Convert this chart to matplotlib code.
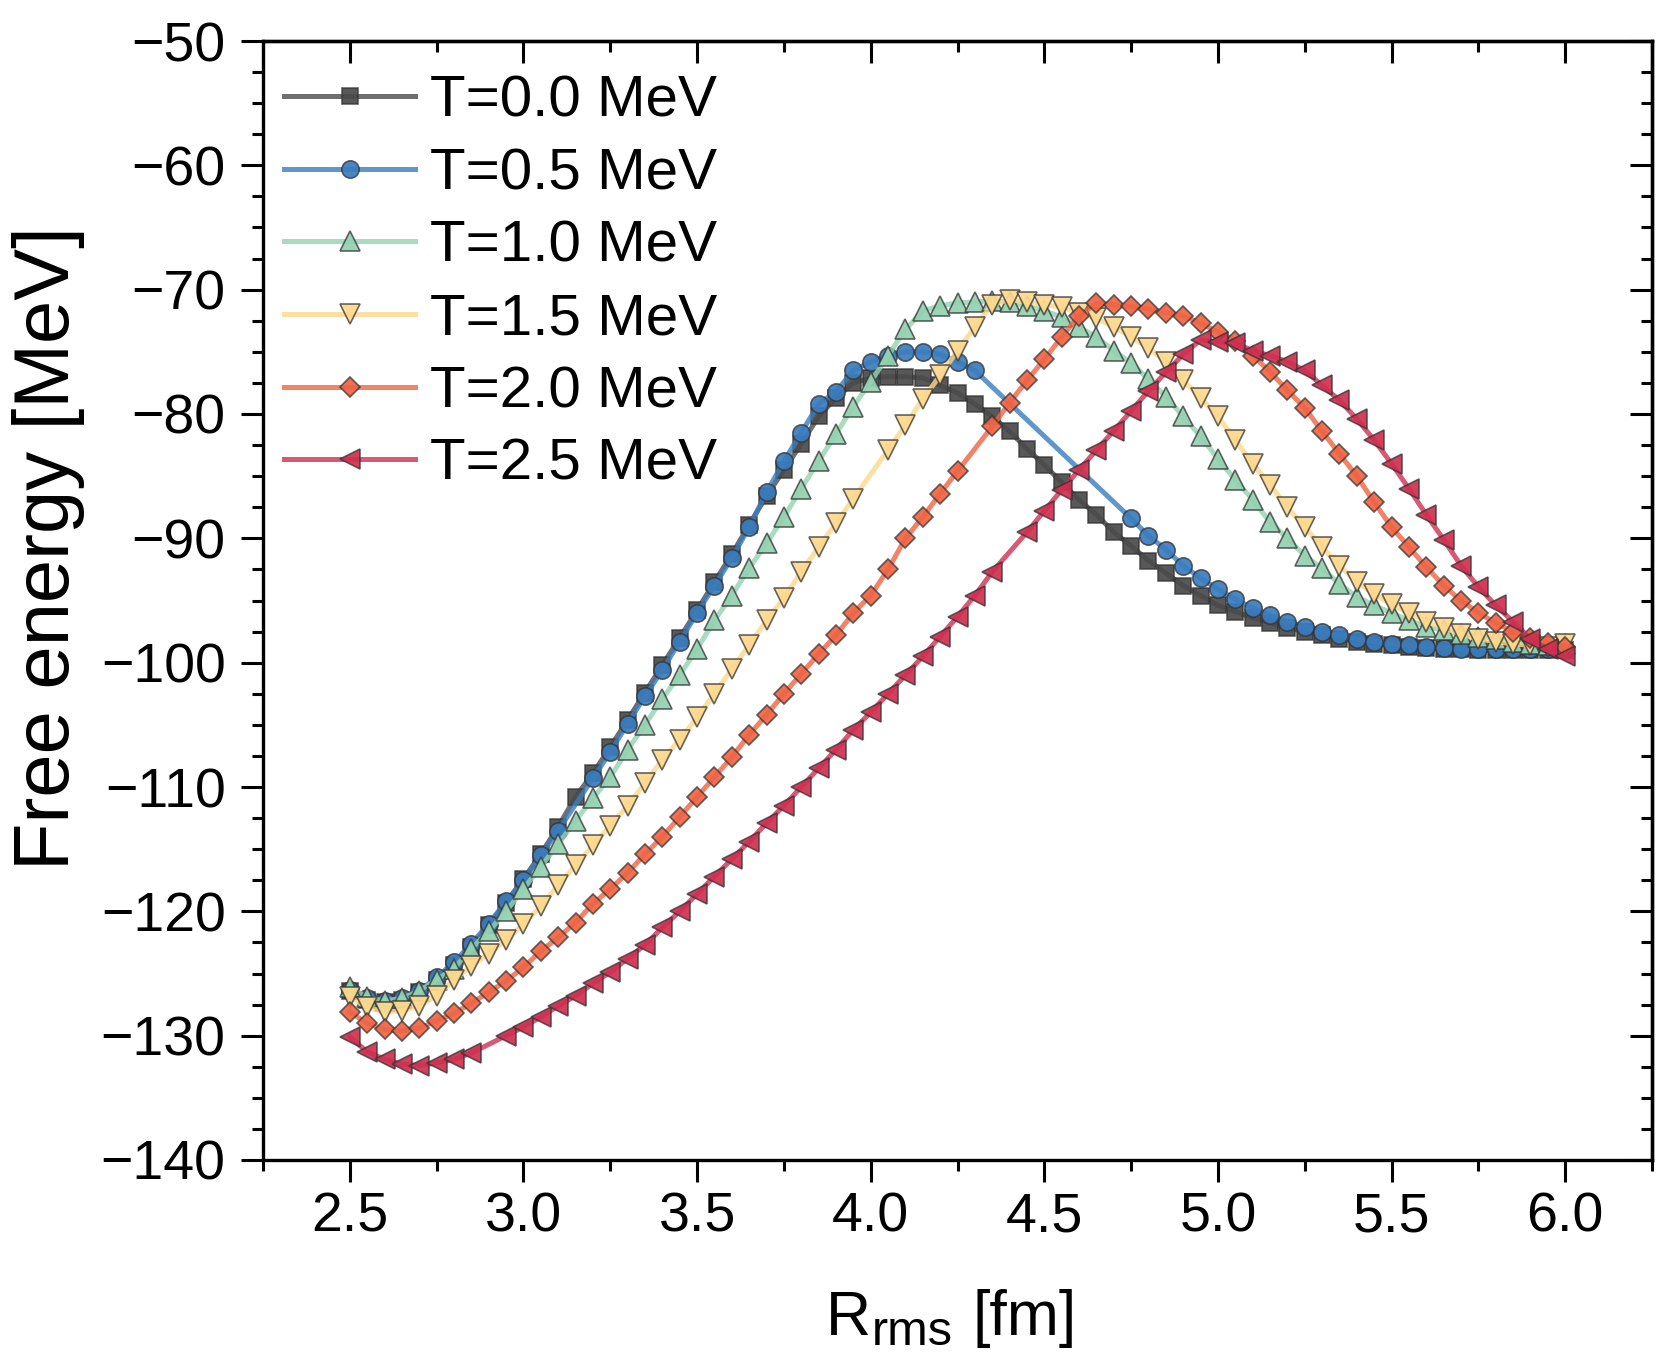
import numpy as np
import matplotlib
matplotlib.use("Agg")
import matplotlib.pyplot as plt
from matplotlib.ticker import MultipleLocator, NullFormatter, FormatStrFormatter

plt.rcParams['font.family'] = ['Liberation Sans', 'DejaVu Sans']

# R_rms grid [fm]
r_fm = [2.50, 2.55, 2.60, 2.65, 2.70, 2.75, 2.80, 2.85, 2.90, 2.95,
        3.00, 3.05, 3.10, 3.15, 3.20, 3.25, 3.30, 3.35, 3.40, 3.45,
        3.50, 3.55, 3.60, 3.65, 3.70, 3.75, 3.80, 3.85, 3.90, 3.95,
        4.00, 4.05, 4.10, 4.15, 4.20, 4.25, 4.30, 4.35, 4.40, 4.45,
        4.50, 4.55, 4.60, 4.65, 4.70, 4.75, 4.80, 4.85, 4.90, 4.95,
        5.00, 5.05, 5.10, 5.15, 5.20, 5.25, 5.30, 5.35, 5.40, 5.45,
        5.50, 5.55, 5.60, 5.65, 5.70, 5.75, 5.80, 5.85, 5.90, 5.95,
        6.00]

# free energy [MeV], None = no point computed
f_t00 = [-126.4, -127.1, -127.3, -127.1, -126.5, -125.5, -124.3, -122.9, -121.1, -119.3,
         -117.4, -115.4, -113.2, -110.8, -108.9, -106.8, -104.6, -102.4, -100.2, -98.0,
         -95.8, -93.5, -91.3, -88.9, -86.6, -84.5, -82.4, -80.2, -78.7, -77.5,
         -77.1, -77.0, -77.0, -77.1, -77.7, -78.3, -79.2, -80.2, -81.4, -82.8,
         -84.1, -85.5, -86.9, -88.1, -89.5, -90.6, -91.8, -92.8, -93.8, -94.6,
         -95.4, -95.9, -96.4, -96.8, -97.2, -97.5, -97.8, -98.1, -98.3, -98.5,
         -98.6, -98.7, -98.8, -98.9, -98.9, -99.0, -99.0, -99.0, -99.0, -99.0,
         -99.0]
f_t05 = [-126.3, -127.0, -127.2, -127.0, -126.4, -125.3, -124.1, -122.6, -121.0, -119.2,
         -117.5, -115.5, -113.5, None, -109.3, -107.2, -104.9, -102.7, -100.6, -98.3,
         -96.0, -93.8, -91.6, -89.1, -86.3, -83.8, -81.5, -79.2, -78.2, -76.5,
         -75.8, -75.3, -75.0, -75.0, -75.2, -75.8, -76.5, None, None, None,
         None, None, None, None, None, -88.4, -89.8, -90.9, -92.2, -93.2,
         -94.1, -94.9, -95.6, -96.2, -96.7, -97.1, -97.5, -97.8, -98.1, -98.3,
         -98.5, -98.6, -98.7, -98.8, -98.9, -98.9, -98.9, -98.9, -98.9, -98.9,
         -99.0]
f_t10 = [-126.1, -126.9, -127.2, -127.0, -126.4, -125.5, -124.6, -123.0, -121.6, -120.0,
         -118.2, -116.4, -114.6, -112.7, -110.9, -109.2, -107.0, -105.0, -102.9, -101.0,
         -98.9, -96.6, -94.6, -92.4, -90.4, -88.3, -86.0, -83.8, -81.6, -79.4,
         -77.4, -75.3, -73.2, -71.7, -71.3, -71.05, -71.0, -70.9, -71.0, -71.3,
         -71.7, -72.2, -73.0, -73.8, -74.9, -75.9, -77.2, -78.6, -80.2, -81.8,
         -83.6, -85.3, -86.9, -88.7, -90.0, -91.4, -92.4, -93.7, -94.7, -95.4,
         -96.0, -96.6, -97.1, -97.4, -97.7, -97.9, -98.1, -98.3, -98.5, -98.6,
         -98.5]
f_t15 = [-126.9, -127.7, -128.1, -128.0, -127.6, -126.8, -125.5, -124.4, -123.4, -122.3,
         -121.0, -119.6, -117.9, -116.3, -114.7, -113.1, -111.5, -109.7, -107.8, -106.2,
         -104.4, -102.5, -100.5, -98.6, -96.6, -94.8, -92.7, -90.7, -88.8, -86.8,
         None, -82.9, -80.9, -78.8, -76.9, -74.9, -73.0, -71.2, -70.8, -71.0,
         -71.2, -71.4, -71.9, -72.3, -73.0, -73.8, -74.7, -75.8, -77.3, -78.7,
         -80.2, -82.1, -84.0, -85.7, -87.5, -89.1, -90.7, -92.2, -93.5, -94.5,
         -95.3, -96.0, -96.7, -97.2, -97.7, -98.1, -98.3, -98.5, -98.6, -98.7,
         -98.5]
f_t20 = [-128.1, -129.0, -129.5, -129.6, -129.4, -128.8, -128.2, -127.4, -126.5, -125.6,
         -124.5, -123.2, -122.1, -120.9, -119.4, -118.2, -116.9, -115.4, -114.0, -112.4,
         -110.8, -109.2, -107.6, -105.8, -104.2, -102.5, -100.9, -99.3, -97.8, -96.0,
         -94.6, -92.5, -90.0, -88.3, -86.4, -84.6, None, -81.0, -79.1, -77.3,
         -75.6, -73.8, -72.1, -71.1, -71.2, -71.35, -71.55, -71.85, -72.1, -72.7,
         -73.4, -74.1, -75.3, -76.6, -78.1, -79.5, -81.4, -83.2, -85.0, -87.1,
         -89.1, -90.7, -92.3, -93.8, -95.0, -96.0, -96.8, -97.5, -98.0, -98.4,
         -98.7]
f_t25 = [-130.1, -131.3, -131.9, -132.3, -132.4, -132.2, -131.9, -131.4, None, -130.0,
         -129.3, -128.5, -127.6, -126.8, -125.8, -124.9, -123.8, -122.7, -121.3, -120.0,
         -118.6, -117.2, -115.8, -114.4, -112.9, -111.5, -110.0, -108.5, -107.0, -105.4,
         -104.0, -102.5, -101.0, -99.5, -97.9, -96.3, -94.6, -92.7, None, -89.5,
         -87.8, -86.1, -84.5, -82.9, -81.35, -79.75, -78.15, -76.65, -75.2, -74.05,
         -74.2, -74.3, -74.9, -75.3, -75.8, -76.5, -77.7, -78.9, -80.4, -82.1,
         -84.0, -86.0, -88.1, -90.1, -92.2, -93.9, -95.4, -96.7, -98.1, -98.9,
         -99.5]

labels = ['T=0.0 MeV', 'T=0.5 MeV', 'T=1.0 MeV', 'T=1.5 MeV', 'T=2.0 MeV', 'T=2.5 MeV']
series = [f_t00, f_t05, f_t10, f_t15, f_t20, f_t25]
colors = ['#4a4a4a', '#3a7cbd', '#93d2b0', '#fed88c', '#ef6444', '#cf2f50']
markers = ['s', 'o', '^', 'v', 'D', '<']
msizes = [11, 12.5, 14.5, 14.5, 10, 14.5]

W, H = 1661, 1368
fig = plt.figure(figsize=(W / 100, H / 100), dpi=100)
ax = fig.add_axes([263 / W, 1 - 1160 / H, (1652 - 263) / W, (1160 - 41) / H])

for f, lab, c, m, ms in zip(series, labels, colors, markers, msizes):
    xs = [r for r, v in zip(r_fm, f) if v is not None]
    ys = [v for v in f if v is not None]
    rgb = matplotlib.colors.to_rgb(c)
    ax.plot(xs, ys, color=rgb + (0.8,), lw=3.6, marker=m, ms=ms,
            mfc=rgb + (0.92,), mec=(0.2, 0.2, 0.2, 0.75), mew=1.2, label=lab)

ax.set_xlim(2.25, 6.25)
ax.set_ylim(-140, -50)
ax.xaxis.set_major_locator(MultipleLocator(0.5))
ax.xaxis.set_minor_locator(MultipleLocator(0.25))
ax.yaxis.set_major_locator(MultipleLocator(10))
ax.yaxis.set_minor_locator(MultipleLocator(2.5))
ax.xaxis.set_major_formatter(FormatStrFormatter('%.1f'))

for s in ax.spines.values():
    s.set_linewidth(2.4)
ax.tick_params(which='both', direction='out', width=2.2, labelsize=40)
ax.tick_params(which='major', length=16)
ax.tick_params(which='minor', length=8)
ax.tick_params(axis='x', pad=7)
ax.tick_params(axis='y', pad=11)

# mirrored ticks pointing inward on top/right
top = ax.secondary_xaxis('top')
right = ax.secondary_yaxis('right')
for sec, axis in ((top, top.xaxis), (right, right.yaxis)):
    axis.set_major_locator(MultipleLocator(0.5 if sec is top else 10))
    axis.set_minor_locator(MultipleLocator(0.25 if sec is top else 2.5))
    axis.set_major_formatter(NullFormatter())
    sec.tick_params(which='both', direction='in', width=2.2)
    sec.tick_params(which='major', length=16)
    sec.tick_params(which='minor', length=8)
    for s in sec.spines.values():
        s.set_linewidth(2.4)

# x label: R with a large, slightly lowered subscript
fig.text(826 / W, 1 - 1335 / H, 'R', fontsize=45, ha='left', va='baseline')
fig.text(872 / W, 1 - 1345 / H, 'rms', fontsize=35, ha='left', va='baseline')
fig.text(972 / W, 1 - 1335 / H, '[fm]', fontsize=45, ha='left', va='baseline')

ax.set_ylabel('Free energy [MeV]', fontsize=56)
ax.yaxis.set_label_coords(-0.128, 0.547)

ax.legend(loc='upper left', bbox_to_anchor=(0.0151, 0.970), frameon=False, fontsize=42,
          handlelength=2.25, handletextpad=0.25, labelspacing=0.32, borderaxespad=0.0,
          borderpad=0.0)

fig.savefig('out.png', dpi=100)
